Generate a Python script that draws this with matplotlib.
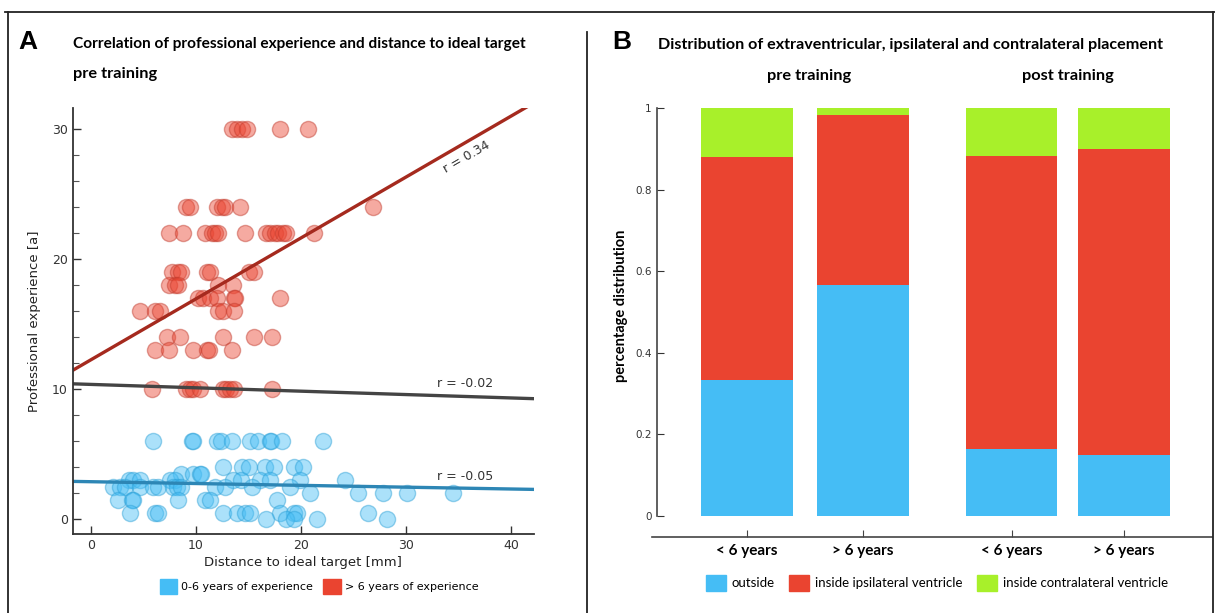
import numpy as np
import matplotlib
matplotlib.use('Agg')
from matplotlib import pyplot as plt
from matplotlib.patches import Patch
from matplotlib.lines import Line2D

#######------------------ DATA ------------------

# panel A - scatter, > 6 years of experience
red_x = [13.4, 13.9, 14.4, 14.9, 18.0, 20.7,
         9.0, 9.4, 12.0, 12.5, 12.8, 14.2, 26.9,
         7.4, 8.8, 10.9, 11.5, 11.8, 12.1, 14.7, 16.7, 17.0, 17.5, 17.8, 18.3, 18.6, 21.2,
         7.7, 8.3, 8.6, 11.0, 11.3, 15.0, 15.5,
         7.4, 8.0, 8.3, 12.1, 13.5,
         10.2, 10.7, 11.3, 12.0, 13.6, 13.7, 18.0,
         4.7, 6.1, 6.6, 12.1, 12.6, 13.6,
         7.2, 8.5, 12.6, 15.5, 17.2,
         6.1, 7.4, 9.7, 11.0, 11.2, 13.4,
         5.8, 9.0, 9.4, 9.7, 10.4, 12.6, 12.9, 13.2, 13.6, 17.2]
red_y = [30, 30, 30, 30, 30, 30,
         24, 24, 24, 24, 24, 24, 24,
         22, 22, 22, 22, 22, 22, 22, 22, 22, 22, 22, 22, 22, 22,
         19, 19, 19, 19, 19, 19, 19,
         18, 18, 18, 18, 18,
         17, 17, 17, 17, 17, 17, 17,
         16, 16, 16, 16, 16, 16,
         14, 14, 14, 14, 14,
         13, 13, 13, 13, 13, 13,
         10, 10, 10, 10, 10, 10, 10, 10, 10, 10]

# panel A - scatter, 0-6 years of experience
blue_x = [5.9, 9.6, 9.7, 12.0, 12.4, 13.4, 15.1, 15.9, 17.0, 17.1, 18.2, 22.1,
          12.6, 14.4, 15.0, 16.6, 17.4, 19.3, 20.2,
          8.6, 9.7, 10.4, 10.5,
          3.6, 4.0, 4.7, 7.5, 8.0, 13.5, 14.3, 16.1, 17.0, 19.9, 24.2,
          2.1, 2.8, 3.2, 4.7, 5.9, 6.4, 7.8, 8.2, 8.6, 11.8, 12.8, 15.3, 19.0,
          20.9, 25.4, 27.8, 30.1, 34.5,
          2.6, 3.9, 4.0, 8.3, 10.9, 11.3, 17.7,
          3.7, 6.1, 6.4, 12.6, 13.9, 14.7, 15.1, 18.0, 19.3, 19.6, 26.4,
          16.7, 18.6, 19.3, 21.5, 28.2]
blue_y = [6, 6, 6, 6, 6, 6, 6, 6, 6, 6, 6, 6,
          4, 4, 4, 4, 4, 4, 4,
          3.5, 3.5, 3.5, 3.5,
          3, 3, 3, 3, 3, 3, 3, 3, 3, 3, 3,
          2.5, 2.5, 2.5, 2.5, 2.5, 2.5, 2.5, 2.5, 2.5, 2.5, 2.5, 2.5, 2.5,
          2, 2, 2, 2, 2,
          1.5, 1.5, 1.5, 1.5, 1.5, 1.5, 1.5,
          0.5, 0.5, 0.5, 0.5, 0.5, 0.5, 0.5, 0.5, 0.5, 0.5, 0.5,
          0, 0, 0, 0, 0]

# regression lines (intercept, slope) and r values
fit_red = (12.25, 0.468)
fit_all = (10.35, -0.026)
fit_blue = (2.87, -0.014)
r_red, r_all, r_blue = 0.34, -0.02, -0.05

# panel B - stacked bars
groups = ['< 6 years', '> 6 years', '< 6 years', '> 6 years']
outside = [0.333, 0.567, 0.165, 0.150]
ipsilateral = [0.547, 0.416, 0.717, 0.750]
contralateral = [0.120, 0.017, 0.118, 0.100]

###------------ fonts / colours ----------------
narrow = ['Lato', 'DejaVu Sans']
c_blue, c_red = '#45bdf5', '#ea4430'
c_green = '#a8f02a'

fig = plt.figure(figsize=(12.15, 6.13), dpi=100)
W, H = 1215, 613


def box(x0, y0, x1, y1):
    return [x0 / W, 1 - y1 / H, (x1 - x0) / W, (y1 - y0) / H]


# frame lines
fig.add_artist(Line2D([5 / W, 1], [1 - 12 / H, 1 - 12 / H], color='#222222', lw=1.3))
fig.add_artist(Line2D([8 / W, 8 / W], [0, 1 - 12 / H], color='#222222', lw=1.3))
fig.add_artist(Line2D([587 / W, 587 / W], [0, 1 - 32 / H], color='#222222', lw=1.3))
fig.add_artist(Line2D([1213 / W, 1213 / W], [0, 1 - 12 / H], color='#222222', lw=1.3))

###------------ panel A ----------------
ax = fig.add_axes(box(72.7, 108, 534, 534))
ax.scatter(blue_x, blue_y, s=135, color=c_blue, alpha=0.45,
           edgecolors='#2a9fd6', linewidths=1)
ax.scatter(red_x, red_y, s=135, color=c_red, alpha=0.45,
           edgecolors='#c0392b', linewidths=1)

xx = np.array([-1.75, 42.2])
ax.plot(xx, fit_red[0] + fit_red[1] * xx, color='#a52a1e', lw=2.4)
ax.plot(xx, fit_all[0] + fit_all[1] * xx, color='#444444', lw=2.4)
ax.plot(xx, fit_blue[0] + fit_blue[1] * xx, color='#2d86b5', lw=2.4)

ax.text(35.8, 27.8, 'r = %.2f' % r_red, rotation=30, fontsize=9,
        color='#333333', ha='center', va='center', rotation_mode='anchor')
ax.text(35.6, 10.4, 'r = %.2f' % r_all, fontsize=9, color='#333333',
        ha='center', va='center')
ax.text(35.6, 3.3, 'r = %.2f' % r_blue, fontsize=9, color='#333333',
        ha='center', va='center')

ax.set_xlim(-1.75, 42.2)
ax.set_ylim(-1.15, 31.6)
ax.set_xticks([0, 10, 20, 30, 40])
ax.set_yticks([0, 10, 20, 30])
ax.set_yticks(np.arange(0, 32, 2), minor=True)
ax.tick_params(direction='in', length=6, width=1, labelsize=9, colors='#333333')
ax.tick_params(which='minor', direction='in', length=4, width=0.8, colors='#555555')
for s in ['top', 'right']:
    ax.spines[s].set_visible(False)
for s in ['left', 'bottom']:
    ax.spines[s].set_color('#333333')
    ax.spines[s].set_linewidth(1.3)
ax.set_xlabel('Distance to ideal target [mm]', fontsize=9.5, color='#222222', labelpad=3)
ax.set_ylabel('Professional experience [a]', fontsize=9.5, color='#222222', labelpad=8)

fig.text(18 / W, 1 - 42 / H, 'A', fontsize=19, fontweight='bold',
         family=['Liberation Sans', 'DejaVu Sans'], va='center')
fig.text(73 / W, 1 - 44 / H,
         'Correlation of professional experience and distance to ideal target',
         fontsize=11.1, fontweight='bold', family=narrow, va='center')
fig.text(73 / W, 1 - 74 / H, 'pre training', fontsize=11.8, fontweight='bold',
         family=narrow, va='center')

fig.legend(handles=[Patch(color=c_blue, label='0-6 years of experience'),
                    Patch(color=c_red, label='> 6 years of experience')],
           loc='center', bbox_to_anchor=(319 / W, 1 - 586 / H), ncol=2,
           frameon=False, fontsize=8, handlelength=1.6, handleheight=1.7,
           handletextpad=0.35, columnspacing=0.9)

###------------ panel B ----------------
bx = fig.add_axes(box(652, 108, 1212, 537))
pos = np.array([0, 1.018, 2.316, 3.3])
bw = 0.8
bx.bar(pos, outside, bw, color=c_blue)
bx.bar(pos, ipsilateral, bw, bottom=outside, color=c_red)
bx.bar(pos, contralateral, bw, bottom=np.array(outside) + np.array(ipsilateral),
       color=c_green)

bx.set_xlim(-0.83, 4.07)
bx.set_ylim(-0.052, 1.0)
bx.set_yticks([0, 0.2, 0.4, 0.6, 0.8, 1])
bx.set_yticklabels(['0', '0.2', '0.4', '0.6', '0.8', '1'])
bx.spines['left'].set_bounds(0, 1)
bx.spines['left'].set_position(('axes', 0.009))
for s in ['top', 'right']:
    bx.spines[s].set_visible(False)
for s in ['left', 'bottom']:
    bx.spines[s].set_color('#444444')
    bx.spines[s].set_linewidth(1.2)
bx.tick_params(axis='y', direction='in', length=5, labelsize=7.5, colors='#333333', pad=4)
bx.set_xticks(pos)
bx.set_xticklabels(groups, fontsize=11, fontweight='bold', family=narrow)
bx.tick_params(axis='x', direction='in', length=5, colors='#444444', pad=5)
for t in bx.get_xticklabels():
    t.set_color('black')
bx.set_ylabel('percentage distribution', fontsize=10.5, fontweight='bold',
              family=narrow)
bx.yaxis.set_label_coords(-0.042, 0.54)

fig.text(612 / W, 1 - 42 / H, 'B', fontsize=19, fontweight='bold',
         family=['Liberation Sans', 'DejaVu Sans'], va='center')
fig.text(658 / W, 1 - 45 / H,
         'Distribution of extraventricular, ipsilateral and contralateral placement',
         fontsize=11.6, fontweight='bold', family=narrow, va='center')
fig.text(809 / W, 1 - 76 / H, 'pre training', fontsize=11.8, fontweight='bold',
         family=narrow, ha='center', va='center')
fig.text(1068 / W, 1 - 76 / H, 'post training', fontsize=11.8, fontweight='bold',
         family=narrow, ha='center', va='center')

fig.legend(handles=[Patch(color=c_blue, label='outside'),
                    Patch(color=c_red, label='inside ipsilateral ventricle'),
                    Patch(color=c_green, label='inside contralateral ventricle')],
           loc='center', bbox_to_anchor=(937 / W, 1 - 583 / H), ncol=3,
           frameon=False, prop={'family': narrow, 'size': 9.5},
           handlelength=1.5, handleheight=1.5, handletextpad=0.45, columnspacing=1.1)

plt.savefig('out.png', dpi=100)
